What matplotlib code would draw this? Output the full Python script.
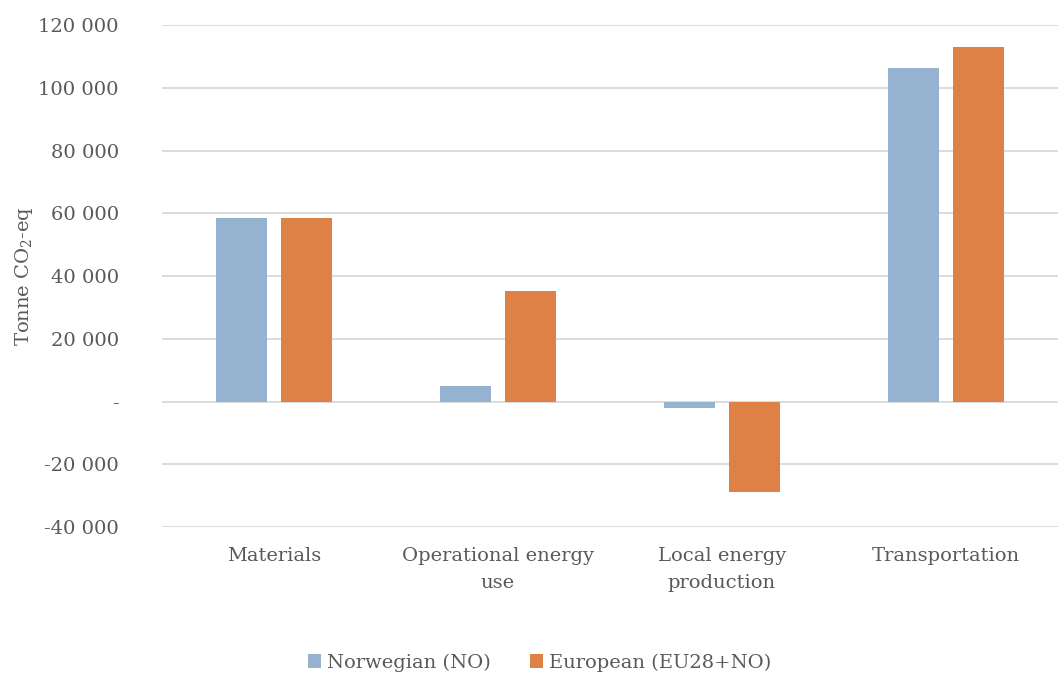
import matplotlib.pyplot as plt
import numpy as np

# Kategorier og verdier (tonn CO2-ekv.)
categories = ['Materials', 'Operational energy\nuse', 'Local energy\nproduction', 'Transportation']
norwegian = [58500, 5000, -2100, 106300]
european = [58500, 35400, -28800, 113000]
series_names = ['Norwegian (NO)', 'European (EU28+NO)']
yticks = [-40000, -20000, 0, 20000, 40000, 60000, 80000, 100000, 120000]

plt.rcParams['font.family'] = ['DejaVu Serif']
plt.rcParams['mathtext.fontset'] = 'dejavuserif'
text_color = '#595959'

fig = plt.figure(figsize=(10.64, 6.75), dpi=100)
ax = fig.add_axes([0.152, 0.219, 0.842, 0.744])

x = np.arange(len(categories))
w = 0.228
off = 0.145
ax.bar(x - off, norwegian, w, color='#95b3d1', label=series_names[0], zorder=3)
ax.bar(x + off, european, w, color='#de8146', label=series_names[1], zorder=3)

ax.set_xlim(-0.5, len(categories) - 0.5)
ax.set_ylim(-40000, 120000)
ax.set_yticks(yticks)


def fmt(v):
    if v == 0:
        return '-'
    return f'{v:,}'.replace(',', ' ')


ax.set_yticklabels([fmt(v) for v in yticks])
ax.set_xticks(x)
ax.set_xticklabels(categories, linespacing=1.65)

ax.yaxis.grid(True, color='#d9d9d9', linewidth=1.3, zorder=0)
for s in ax.spines.values():
    s.set_visible(False)
ax.tick_params(axis='both', length=0, labelsize=14, colors=text_color)
ax.tick_params(axis='y', pad=31)
ax.tick_params(axis='x', pad=14)

ax.set_ylabel('Tonne CO$_2$-eq', fontsize=14, color=text_color)
ax.yaxis.set_label_coords(-0.142, 0.5)

leg = fig.legend(loc='center', bbox_to_anchor=(0.507, 0.018), ncol=2, frameon=False,
                 fontsize=14, handlelength=0.7, handleheight=0.7, handletextpad=0.3,
                 columnspacing=2.0)
for t in leg.get_texts():
    t.set_color(text_color)

fig.savefig('out.png', dpi=100)
